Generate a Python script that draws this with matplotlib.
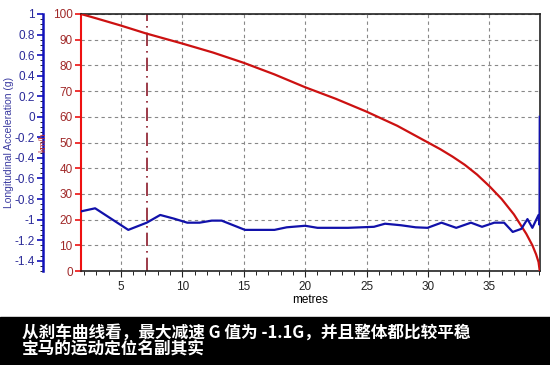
#import library
import matplotlib
matplotlib.use("Agg")
import matplotlib.pyplot as plt
from matplotlib.ticker import MultipleLocator
import numpy as np

plt.rcParams['font.family'] = ['Liberation Sans', 'DejaVu Sans']

#data kecepatan (km/h) terhadap jarak (metres)
jarak_speed = [1.75, 3, 5, 7, 10, 12.5, 15, 17.5, 20, 22.5, 25, 27.5, 30, 31,
               32, 33, 34, 35, 36, 37, 38, 38.5, 38.8, 39, 39.1]
speed = [100, 98.3, 95.5, 92.5, 88.5, 85, 81, 76.5, 71.5, 67, 62, 56.5, 50, 47.4,
         44.5, 41.3, 37.5, 33, 28, 22, 14.5, 10, 6.5, 3.5, 0]

#data percepatan longitudinal (g)
jarak_acc = [1.75, 2.9, 5.6, 7.1, 8.2, 9.3, 10.4, 11.4, 12.4, 13.2, 15.1, 17.5,
             18.5, 20, 21, 23.5, 25.6, 26.5, 27.8, 29.0, 29.96, 31.1, 32.3, 33.5,
             34.4, 35.4, 36.2, 36.9, 37.6, 38.1, 38.5, 39.0, 39.08, 39.1]
acc = [-0.92, -0.89, -1.10, -1.03, -0.955, -0.99, -1.03, -1.03, -1.01, -1.01,
       -1.10, -1.10, -1.075, -1.06, -1.08, -1.08, -1.07, -1.04, -1.055, -1.075,
       -1.08, -1.03, -1.08, -1.03, -1.07, -1.03, -1.03, -1.12, -1.09, -0.995,
       -1.08, -0.955, -1.05, 0.0]

acc_ticks = [-1.4, -1.2, -1, -0.8, -0.6, -0.4, -0.2, 0, 0.2, 0.4, 0.6, 0.8, 1]
penanda_x = 7.1
judul1 = "从刹车曲线看，最大减速 G 值为 -1.1G，并且整体都比较平稳"
judul2 = "宝马的运动定位名副其实"

fig = plt.figure(figsize=(5.5, 3.65), dpi=100)
ax = fig.add_axes([81 / 550, 1 - 271 / 365, 459 / 550, 257 / 365])

#kurva kecepatan
ax.plot(jarak_speed, speed, color='#cc1111', lw=1.6, zorder=3)
ax.set_xlim(1.75, 39.12)
ax.set_ylim(0, 100)
ax.yaxis.set_major_locator(MultipleLocator(10))
ax.xaxis.set_major_locator(MultipleLocator(5))
ax.xaxis.set_minor_locator(MultipleLocator(1))
ax.grid(True, color='#888888', ls=(0, (3, 3)), lw=0.8)
ax.axvline(penanda_x, color='#8b1a2a', lw=1.2, ls=(0, (8, 3, 1, 3)), zorder=2)

ax.spines['left'].set_color('#ee1111')
ax.spines['left'].set_linewidth(1.5)
for s in ['top', 'right', 'bottom']:
    ax.spines[s].set_color('#222222')
    ax.spines[s].set_linewidth(1.2)
ax.tick_params(axis='y', colors='#ee1111', labelcolor='#a02828', labelsize=8.5,
               length=4, width=1.2, pad=2)
ax.tick_params(axis='x', colors='#222222', labelsize=8.5, length=4, pad=3)
ax.tick_params(axis='x', which='minor', length=3)
ax.set_xlabel('metres', fontsize=8.5, labelpad=1)

#sumbu percepatan (biru) di sebelah kiri, 38 px dari sumbu merah
ax2 = ax.twinx()
ax2.plot(jarak_acc, acc, color='#1111aa', lw=1.6, zorder=4)
ax2.set_ylim(-1.5, 1)
ax2.yaxis.set_ticks_position('left')
ax2.spines['left'].set_position(('outward', 38 * 0.72))
ax2.spines['left'].set_visible(True)
ax2.spines['left'].set_color('#1111bb')
ax2.spines['left'].set_linewidth(1.8)
ax2.spines['right'].set_visible(False)
ax2.spines['top'].set_visible(False)
ax2.spines['bottom'].set_visible(False)
ax2.set_yticks(acc_ticks)
ax2.set_yticklabels([str(v) for v in acc_ticks])
ax2.yaxis.set_minor_locator(MultipleLocator(0.05))
ax2.tick_params(axis='y', colors='#1111bb', labelcolor='#2a2a99', labelsize=8.5,
                length=4, width=1.2, pad=2)
ax2.tick_params(axis='y', which='minor', length=2.5)

fig.text(9 / 550, 1 - 142 / 365, 'Longitudinal Acceleration (g)', color='#3a3aa0',
         fontsize=7.5, rotation=90, ha='center', va='center')
fig.text(43 / 550, 1 - 142 / 365, 'km/h', color='#bb3333', fontsize=6.5,
         rotation=90, ha='center', va='center', zorder=10)

#banner judul di bawah
fig.patches.append(plt.Rectangle((0, 0), 1, 48 / 365, transform=fig.transFigure,
                                 color='black', zorder=0))
fig.text(22 / 550, 1 - 333 / 365, judul1, color='white', fontsize=12,
         fontweight='bold', va='center', family=['Noto Sans CJK SC', 'DejaVu Sans'])
fig.text(22 / 550, 1 - 350 / 365, judul2, color='white', fontsize=12,
         fontweight='bold', va='center', family=['Noto Sans CJK SC', 'DejaVu Sans'])

fig.savefig('out.png', dpi=100)
